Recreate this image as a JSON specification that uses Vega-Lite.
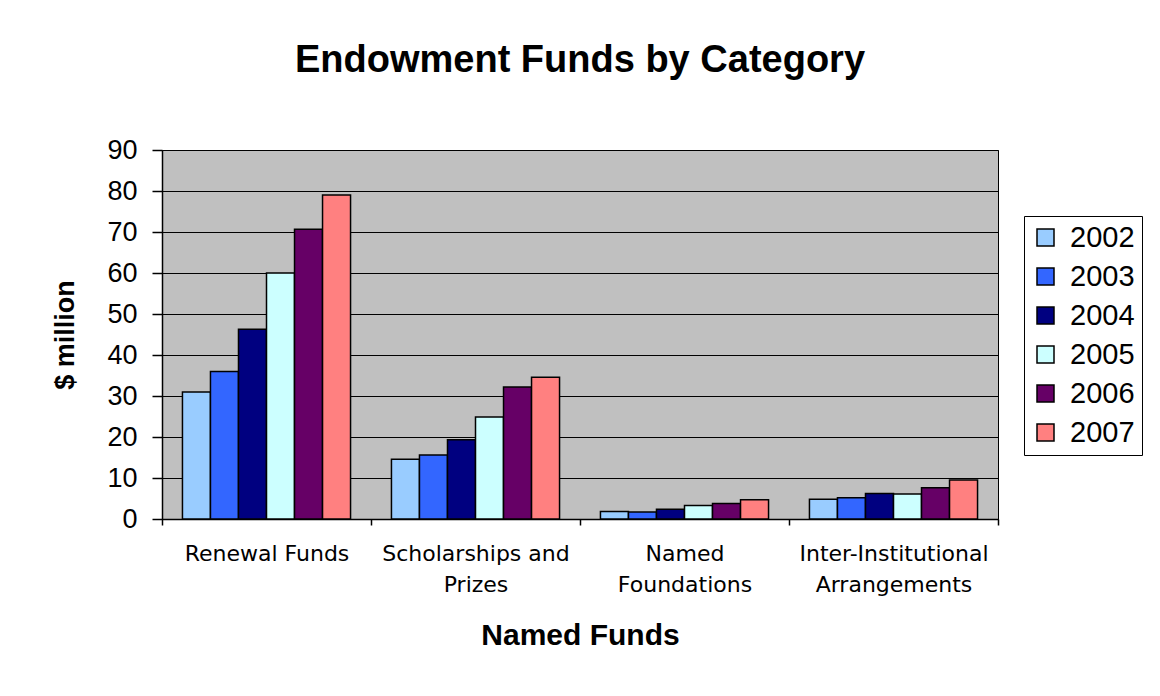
{
  "$schema": "https://vega.github.io/schema/vega-lite/v6.json",
  "width": 836,
  "height": 369,
  "autosize": {"type": "none"},
  "padding": {"left": 162, "top": 150, "right": 162, "bottom": 177},
  "background": "white",
  "title": {
    "text": "Endowment Funds by Category",
    "font": "Liberation Sans",
    "fontSize": 38,
    "fontWeight": "bold",
    "color": "black",
    "anchor": "middle",
    "offset": 56
  },
  "config": {
    "view": {"fill": "#C0C0C0", "stroke": "black", "strokeWidth": 1},
    "font": "Liberation Sans"
  },
  "data": {
    "values": [
      {"category": "Renewal Funds", "year": "2002", "value": 31},
      {"category": "Renewal Funds", "year": "2003", "value": 36},
      {"category": "Renewal Funds", "year": "2004", "value": 46.3},
      {"category": "Renewal Funds", "year": "2005", "value": 60},
      {"category": "Renewal Funds", "year": "2006", "value": 70.7},
      {"category": "Renewal Funds", "year": "2007", "value": 79},
      {"category": "Scholarships and Prizes", "year": "2002", "value": 14.6},
      {"category": "Scholarships and Prizes", "year": "2003", "value": 15.6},
      {"category": "Scholarships and Prizes", "year": "2004", "value": 19.3},
      {"category": "Scholarships and Prizes", "year": "2005", "value": 24.9},
      {"category": "Scholarships and Prizes", "year": "2006", "value": 32.2},
      {"category": "Scholarships and Prizes", "year": "2007", "value": 34.6},
      {"category": "Named Foundations", "year": "2002", "value": 1.8},
      {"category": "Named Foundations", "year": "2003", "value": 1.7},
      {"category": "Named Foundations", "year": "2004", "value": 2.4},
      {"category": "Named Foundations", "year": "2005", "value": 3.3},
      {"category": "Named Foundations", "year": "2006", "value": 3.8},
      {"category": "Named Foundations", "year": "2007", "value": 4.7},
      {"category": "Inter-Institutional Arrangements", "year": "2002", "value": 4.8},
      {"category": "Inter-Institutional Arrangements", "year": "2003", "value": 5.2},
      {"category": "Inter-Institutional Arrangements", "year": "2004", "value": 6.2},
      {"category": "Inter-Institutional Arrangements", "year": "2005", "value": 6.1},
      {"category": "Inter-Institutional Arrangements", "year": "2006", "value": 7.6},
      {"category": "Inter-Institutional Arrangements", "year": "2007", "value": 9.5}
    ]
  },
  "mark": {"type": "bar", "stroke": "black", "strokeWidth": 1.5},
  "encoding": {
    "x": {
      "field": "category",
      "type": "nominal",
      "sort": ["Renewal Funds", "Scholarships and Prizes", "Named Foundations", "Inter-Institutional Arrangements"],
      "scale": {"paddingInner": 0, "paddingOuter": 0},
      "axis": {
        "title": "Named Funds",
        "titleFont": "Liberation Sans",
        "titleFontSize": 30,
        "titleFontWeight": "bold",
        "titleColor": "black",
        "titlePadding": 25,
        "labelAngle": 0,
        "labelFont": "DejaVu Sans",
        "labelFontSize": 22,
        "labelColor": "black",
        "labelPadding": 18,
        "labelLineHeight": 31,
        "labelLimit": 0,
        "labelExpr": "datum.label == 'Scholarships and Prizes' ? ['Scholarships and', 'Prizes'] : datum.label == 'Named Foundations' ? ['Named', 'Foundations'] : datum.label == 'Inter-Institutional Arrangements' ? ['Inter-Institutional', 'Arrangements'] : datum.label",
        "tickBand": "extent",
        "tickColor": "black",
        "tickSize": 6,
        "tickWidth": 1.5,
        "domainColor": "black",
        "domainWidth": 1.5
      }
    },
    "xOffset": {
      "field": "year",
      "type": "ordinal",
      "sort": ["2002", "2003", "2004", "2005", "2006", "2007"],
      "scale": {"paddingInner": 0, "paddingOuter": 0.73}
    },
    "y": {
      "field": "value",
      "type": "quantitative",
      "scale": {"domain": [0, 90], "nice": false},
      "axis": {
        "title": "$ million",
        "titleFont": "Liberation Sans",
        "titleFontSize": 27,
        "titleFontWeight": "bold",
        "titleColor": "black",
        "titlePadding": 27,
        "values": [0, 10, 20, 30, 40, 50, 60, 70, 80, 90],
        "labelFont": "Liberation Sans",
        "labelFontSize": 27,
        "labelColor": "black",
        "labelPadding": 15,
        "tickColor": "black",
        "tickSize": 10,
        "tickWidth": 1.5,
        "grid": true,
        "gridColor": "black",
        "gridOpacity": 1,
        "gridWidth": 1,
        "domainColor": "black",
        "domainWidth": 1.5
      }
    },
    "color": {
      "field": "year",
      "type": "ordinal",
      "scale": {
        "domain": ["2002", "2003", "2004", "2005", "2006", "2007"],
        "range": ["#99CCFF", "#3366FF", "#000080", "#CCFFFF", "#660066", "#FF8080"]
      },
      "legend": {
        "title": null,
        "orient": "none",
        "legendX": 862,
        "legendY": 66,
        "strokeColor": "black",
        "fillColor": "white",
        "padding": 7,
        "symbolType": "square",
        "symbolSize": 289,
        "symbolStrokeColor": "black",
        "symbolStrokeWidth": 1.5,
        "symbolOpacity": 1,
        "labelFont": "Liberation Sans",
        "labelFontSize": 29,
        "labelColor": "black",
        "labelOffset": 10,
        "rowPadding": 9
      }
    }
  }
}
